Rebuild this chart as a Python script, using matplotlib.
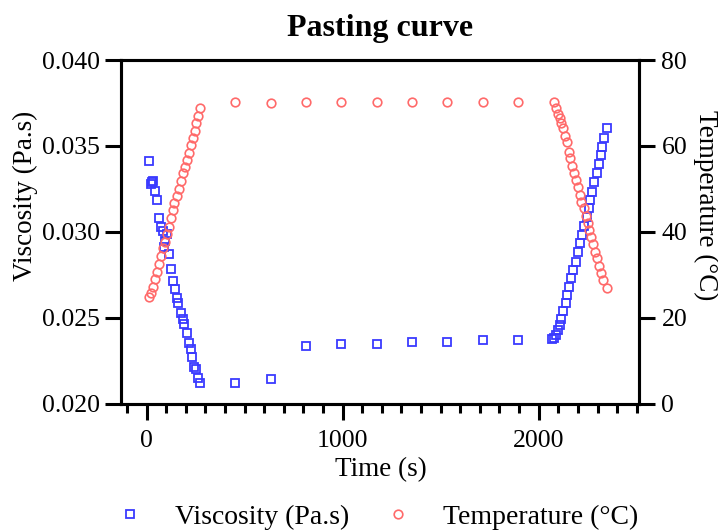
import matplotlib.pyplot as plt
from matplotlib.ticker import MultipleLocator, FormatStrFormatter

# Viscosity readings (Pa.s) - heating ramp, hold, cooling ramp
visc_time = [14, 21, 30, 35, 43, 55, 64, 72, 83, 87, 92, 103, 115, 125, 134, 144, 154,
             162, 174, 185, 193, 205, 217, 225, 233, 244, 252, 264, 273,
             451, 635, 813, 993, 1173, 1353, 1533, 1714, 1893,
             2070, 2077, 2087, 2099, 2108, 2116, 2124, 2137, 2145, 2155, 2167, 2175,
             2189, 2201, 2209, 2221, 2231, 2244, 2255, 2264, 2272, 2282, 2295, 2306,
             2317, 2325, 2333, 2346]
viscosity = [0.03413, 0.03277, 0.03292, 0.03298, 0.03238, 0.03184, 0.03080, 0.03031,
             0.03006, 0.02913, 0.02948, 0.02987, 0.02872, 0.02787, 0.02717, 0.02669,
             0.02615, 0.02585, 0.02531, 0.02492, 0.02465, 0.02411, 0.02356, 0.02318,
             0.02275, 0.02217, 0.02202, 0.02149, 0.02120,
             0.02120, 0.02147, 0.02337, 0.02347, 0.02351, 0.02359, 0.02362, 0.02370, 0.02372,
             0.02376, 0.02382, 0.02401, 0.02430, 0.02459, 0.02494, 0.02541, 0.02585,
             0.02634, 0.02682, 0.02731, 0.02779, 0.02827, 0.02882, 0.02934, 0.02983,
             0.03035, 0.03089, 0.03138, 0.03186, 0.03234, 0.03292, 0.03345, 0.03395,
             0.03448, 0.03496, 0.03548, 0.03603]

# Temperature readings (degC)
temp_time = [14, 23, 35, 45, 55, 65, 72, 86, 94, 103, 113, 123, 134, 142, 154, 166, 174,
             185, 195, 205, 215, 225, 236, 246, 254, 264, 273,
             451, 635, 813, 993, 1173, 1353, 1533, 1714, 1893,
             2077, 2087, 2099, 2108, 2116, 2124, 2133, 2142, 2153, 2162, 2170, 2180,
             2189, 2201, 2209, 2218, 2230, 2239, 2249, 2257, 2269, 2277, 2286, 2298,
             2306, 2317, 2328, 2346]
temperature = [24.95, 25.88, 27.28, 29.00, 30.77, 32.56, 34.49, 36.21, 37.74, 39.54,
               41.23, 43.19, 45.12, 46.81, 48.37, 50.07, 51.93, 53.65, 55.19, 56.74,
               58.44, 60.23, 61.93, 63.56, 65.28, 66.98, 68.77,
               70.3, 70.1, 70.2, 70.2, 70.2, 70.2, 70.2, 70.2, 70.2,
               70.16, 68.77, 67.44, 66.44, 65.28, 64.12, 62.33, 61.00, 58.67, 57.28,
               55.35, 53.79, 52.09, 50.40, 48.60, 47.05, 45.51, 43.72, 42.16, 40.47,
               38.77, 37.21, 35.42, 33.88, 32.09, 30.53, 28.84, 26.91]

plt.rcParams["font.family"] = ["Liberation Serif", "DejaVu Serif"]

fig = plt.figure(figsize=(7.18, 5.31), dpi=100)
ax = fig.add_axes([0.1691, 0.2392, 0.7202, 0.6478])
ax2 = ax.twinx()

blue = "#3a3aff"
red = "#ff6a6a"

(l1,) = ax.plot(visc_time, viscosity, ls="none", marker="s", ms=6.0,
                mfc="none", mec=blue, mew=1.3, label="Viscosity (Pa.s)")
(l2,) = ax2.plot(temp_time, temperature, ls="none", marker="o", ms=6.2,
                 mfc="none", mec=red, mew=1.2, label="Temperature (\u00b0C)")

ax.set_xlim(-128, 2509)
ax.set_ylim(0.020, 0.040)
ax2.set_ylim(0, 80)

ax.xaxis.set_major_locator(MultipleLocator(1000))
ax.xaxis.set_minor_locator(MultipleLocator(100))
ax.yaxis.set_major_locator(MultipleLocator(0.005))
ax.yaxis.set_major_formatter(FormatStrFormatter("%.3f"))
ax2.yaxis.set_major_locator(MultipleLocator(20))

# thick Prism-like axes
for a in (ax, ax2):
    for sp in a.spines.values():
        sp.set_linewidth(2.2)
ax.tick_params(axis="both", which="major", length=11.5, width=2.2, labelsize=18.5,
               direction="out")
ax.tick_params(axis="x", which="minor", length=6.5, width=2.2, direction="out")
ax.tick_params(axis="x", which="major", pad=7)
ax.tick_params(axis="y", which="major", pad=4)
ax2.tick_params(axis="y", which="major", length=11.5, width=2.2, labelsize=18.5,
                direction="out", pad=5)

ax.set_title("Pasting curve", fontsize=23, fontweight="bold", pad=17)

ax.set_xlabel("Time (s)", fontsize=19.5)
ax.xaxis.set_label_coords(0.5014, -0.192)
ax.xaxis.label.set_va("center")

ax.set_ylabel("Viscosity (Pa.s)", fontsize=19.5)
ax.yaxis.set_label_coords(-0.1855, 0.6055)
ax.yaxis.label.set_va("center")

ax2.set_ylabel("Temperature (\u00b0C)", fontsize=19.5, rotation=270)
ax2.yaxis.set_label_coords(1.1304, 0.5785)
ax2.yaxis.label.set_va("center")

fig.legend(handles=[l1, l2], loc="center", bbox_to_anchor=(377 / 718, 1 - 517 / 531),
           ncol=2, frameon=False, fontsize=20, handlelength=1.0, handletextpad=1.12,
           columnspacing=1.26, borderpad=0, borderaxespad=0)

plt.savefig("out.png", dpi=100)
